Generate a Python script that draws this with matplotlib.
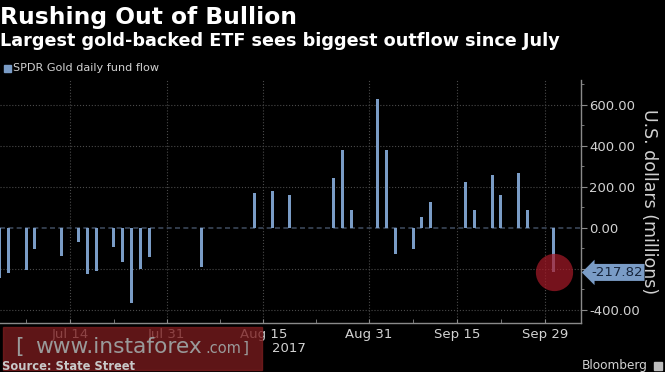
import numpy as np
import pandas as pd
import matplotlib
matplotlib.use('Agg')
import matplotlib.pyplot as plt
from matplotlib.patches import Rectangle
from matplotlib.transforms import blended_transform_factory

'''Daily flows (US$ millions), read off the chart'''
flow_dates = ['2017-07-03', '2017-07-05', '2017-07-07', '2017-07-10', '2017-07-13',
              '2017-07-17', '2017-07-18', '2017-07-19', '2017-07-21', '2017-07-24',
              '2017-07-25', '2017-07-26', '2017-07-27', '2017-08-04', '2017-08-14',
              '2017-08-16', '2017-08-18', '2017-08-25', '2017-08-28', '2017-08-29',
              '2017-09-01', '2017-09-05', '2017-09-06', '2017-09-08', '2017-09-11',
              '2017-09-12', '2017-09-18', '2017-09-19', '2017-09-21', '2017-09-22',
              '2017-09-26', '2017-09-27', '2017-10-02']
flows = [-244, -219, -208, -104, -138,
         -72, -224, -211, -94, -169,
         -369, -202, -145, -193, 167,
         179, 158, 241, 379, 86,
         626, 379, -127, -104, 50,
         124, 223, 86, 257, 159,
         268, 85, -217.82]

tick_dates = ['2017-07-14', '2017-07-31', '2017-08-15', '2017-08-31', '2017-09-15', '2017-09-29']
tick_labels = ['Jul 14', 'Jul 31', 'Aug 15', 'Aug 31', 'Sep 15', 'Sep 29']
minor_dates = ['2017-07-07', '2017-07-21', '2017-08-08', '2017-08-23', '2017-09-08', '2017-09-22']
y_ticks = [-400, -200, 0, 200, 400, 600]
y_labels = ['-400.00', '', '0.00', '200.00', '400.00', '600.00']
last_value = flows[-1]

# trading-day axis (no gaps for weekends / holidays)
days = pd.bdate_range('2017-07-03', '2017-10-06')
days = days[~days.isin(pd.to_datetime(['2017-07-04', '2017-09-04']))]
day_idx = {d: i for i, d in enumerate(days)}
x = [day_idx[pd.Timestamp(d)] for d in flow_dates]
xt = [day_idx[pd.Timestamp(d)] for d in tick_dates]
xm = [day_idx[pd.Timestamp(d)] for d in minor_dates]

bar_col = '#7a9cc6'
txt_col = '#d2d2d2'
grid_col = '#4a4a4a'

fig = plt.figure(figsize=(6.65, 3.72), dpi=100, facecolor='black')
ax = fig.add_axes([0.0, 0.133, 581 / 665, 0.652])
ax.set_facecolor('black')

ax.bar(x, flows, width=0.34, color=bar_col, zorder=3)
ax.axhline(0, color='#3a4658', lw=1.2, ls=(0, (3, 2)), zorder=2)

for yy in y_ticks:
    if yy != 0:
        ax.axhline(yy, color=grid_col, lw=0.8, ls=':', zorder=1)
for xx in xt:
    ax.axvline(xx, color=grid_col, lw=0.8, ls=':', zorder=1)

# highlight the latest outflow
ax.scatter([x[-1]], [last_value], s=720, color='#a81a28', alpha=0.7, lw=0, zorder=4)

ax.set_xlim(0.04, 66.1)
ax.set_ylim(-462, 720)

ax.set_xticks(xt)
ax.set_xticklabels(tick_labels)
ax.set_xticks(xm, minor=True)
ax.tick_params(axis='x', which='both', direction='in', colors='#8a8a8a',
               labelcolor=txt_col, labelsize=9.5, length=3, pad=4)

ax.yaxis.tick_right()
ax.set_yticks(y_ticks)
ax.set_yticklabels(y_labels)
ax.set_yticks([-300, -100, 100, 300, 500, 700], minor=True)
ax.tick_params(axis='y', which='major', direction='out', colors='#8a8a8a',
               labelcolor=txt_col, labelsize=9.5, length=4, pad=2)
ax.tick_params(axis='y', which='minor', direction='out', colors='#8a8a8a', length=2.5)

for s in ['left', 'top']:
    ax.spines[s].set_visible(False)
for s in ['right', 'bottom']:
    ax.spines[s].set_color('#8a8a8a')
    ax.spines[s].set_linewidth(1)

ax.yaxis.set_label_position('right')
ax.set_ylabel('U.S. dollars (millions)', color=txt_col, fontsize=12.5,
              rotation=270, labelpad=13)

# value tag next to the axis
tr = blended_transform_factory(ax.transAxes, ax.transData)
ax.text(1.017, last_value, '%.2f' % last_value, transform=tr, ha='left', va='center',
        fontsize=9.6, color='#16253c', zorder=6, clip_on=False,
        bbox=dict(boxstyle='larrow,pad=0.15', fc=bar_col, ec='none'))

# titles
fig.text(0.0, 1 - 24 / 372, 'Rushing Out of Bullion', color='white', fontsize=16.8,
         fontweight='bold', va='baseline', ha='left')
fig.text(0.0, 1 - 46 / 372, 'Largest gold-backed ETF sees biggest outflow since July',
         color='white', fontsize=12.7, fontweight='bold', va='baseline', ha='left')

# legend
fig.patches.append(Rectangle((4 / 665, 1 - 72 / 372), 7 / 665, 7 / 372,
                             transform=fig.transFigure, color=bar_col))
fig.text(13 / 665, 1 - 68 / 372, 'SPDR Gold daily fund flow', color=txt_col,
         fontsize=8.1, va='center', ha='left')

fig.text(289 / 665, 1 - 349 / 372, '2017', color=txt_col, fontsize=9.5,
         ha='center', va='center')
fig.text(2 / 665, 1 - 367 / 372, 'Source: State Street', color='#c8c8c8',
         fontsize=8.3, fontweight='bold', ha='left', va='center')
fig.text(648 / 665, 1 - 366 / 372, 'Bloomberg', color=txt_col, fontsize=8.7,
         ha='right', va='center')
fig.patches.append(Rectangle((654 / 665, 1 - 370 / 372), 8 / 665, 8 / 372,
                             transform=fig.transFigure, color='#bdbdbd'))

# watermark overlay
fig.patches.append(Rectangle((3 / 665, 1 - 370 / 372), 259 / 665, 43 / 372,
                             transform=fig.transFigure, color='#7a1c1e', alpha=0.78))
wm_y = 1 - 353 / 372
fig.text(15 / 665, wm_y, '[', color='#9a9a9a', fontsize=16, va='baseline', zorder=5)
fig.text(35 / 665, wm_y, 'www.instaforex', color='#9a9a9a', fontsize=15.7, va='baseline', zorder=5)
fig.text(205 / 665, wm_y, '.com', color='#9a9a9a', fontsize=10.5, va='baseline', zorder=5)
fig.text(243 / 665, wm_y, ']', color='#9a9a9a', fontsize=11, va='baseline', zorder=5)

plt.savefig('out.png', dpi=100, facecolor='black')
plt.close()
